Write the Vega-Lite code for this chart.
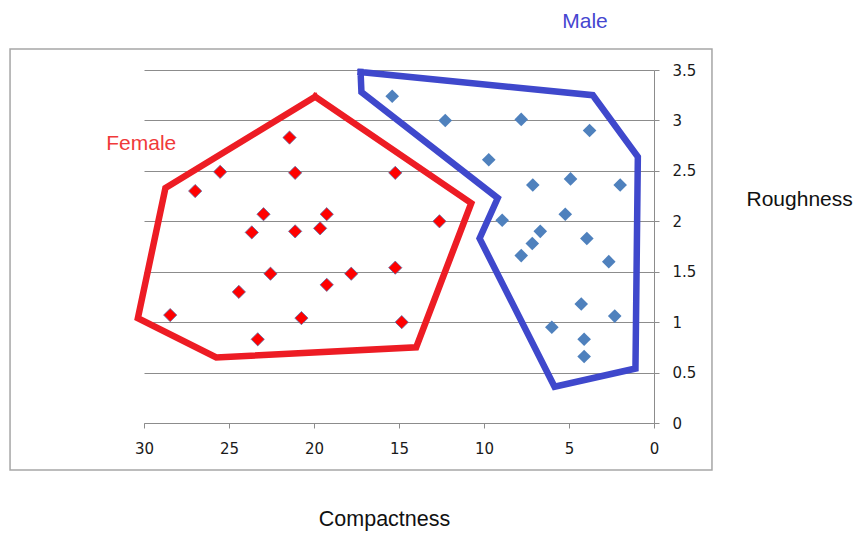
{
  "$schema": "https://vega.github.io/schema/vega-lite/v6.json",
  "width": 510,
  "height": 353,
  "autosize": {"type": "none"},
  "padding": {"left": 144, "top": 70, "right": 202, "bottom": 111},
  "background": "white",
  "config": {
    "view": {"stroke": null},
    "axis": {
      "domainColor": "#8c8c8c",
      "tickColor": "#8c8c8c",
      "gridColor": "#8c8c8c",
      "tickSize": 5,
      "labelFont": "DejaVu Sans",
      "labelFontSize": 15,
      "labelColor": "#1a1a1a",
      "labelFlush": false,
      "titleFont": "Liberation Sans",
      "titleFontSize": 21,
      "titleFontWeight": "normal",
      "titleColor": "#111111"
    }
  },
  "datasets": {
    "specimens": [
      {"sex": "Female", "compactness": 21.44, "roughness": 2.83},
      {"sex": "Female", "compactness": 25.52, "roughness": 2.49},
      {"sex": "Female", "compactness": 26.99, "roughness": 2.30},
      {"sex": "Female", "compactness": 21.11, "roughness": 2.48},
      {"sex": "Female", "compactness": 22.97, "roughness": 2.07},
      {"sex": "Female", "compactness": 19.25, "roughness": 2.07},
      {"sex": "Female", "compactness": 23.66, "roughness": 1.89},
      {"sex": "Female", "compactness": 21.11, "roughness": 1.90},
      {"sex": "Female", "compactness": 19.64, "roughness": 1.93},
      {"sex": "Female", "compactness": 22.56, "roughness": 1.48},
      {"sex": "Female", "compactness": 17.81, "roughness": 1.48},
      {"sex": "Female", "compactness": 24.42, "roughness": 1.30},
      {"sex": "Female", "compactness": 19.25, "roughness": 1.37},
      {"sex": "Female", "compactness": 28.46, "roughness": 1.07},
      {"sex": "Female", "compactness": 20.74, "roughness": 1.04},
      {"sex": "Female", "compactness": 23.31, "roughness": 0.83},
      {"sex": "Female", "compactness": 15.22, "roughness": 2.48},
      {"sex": "Female", "compactness": 12.62, "roughness": 2.00},
      {"sex": "Female", "compactness": 15.22, "roughness": 1.54},
      {"sex": "Female", "compactness": 14.84, "roughness": 1.00},
      {"sex": "Male", "compactness": 15.40, "roughness": 3.24},
      {"sex": "Male", "compactness": 12.28, "roughness": 3.00},
      {"sex": "Male", "compactness": 7.81, "roughness": 3.01},
      {"sex": "Male", "compactness": 3.79, "roughness": 2.90},
      {"sex": "Male", "compactness": 9.72, "roughness": 2.61},
      {"sex": "Male", "compactness": 7.13, "roughness": 2.36},
      {"sex": "Male", "compactness": 4.91, "roughness": 2.42},
      {"sex": "Male", "compactness": 1.99, "roughness": 2.36},
      {"sex": "Male", "compactness": 8.93, "roughness": 2.01},
      {"sex": "Male", "compactness": 5.22, "roughness": 2.07},
      {"sex": "Male", "compactness": 6.69, "roughness": 1.90},
      {"sex": "Male", "compactness": 7.16, "roughness": 1.78},
      {"sex": "Male", "compactness": 3.95, "roughness": 1.83},
      {"sex": "Male", "compactness": 7.81, "roughness": 1.66},
      {"sex": "Male", "compactness": 2.66, "roughness": 1.60},
      {"sex": "Male", "compactness": 4.28, "roughness": 1.18},
      {"sex": "Male", "compactness": 2.31, "roughness": 1.06},
      {"sex": "Male", "compactness": 6.01, "roughness": 0.95},
      {"sex": "Male", "compactness": 4.11, "roughness": 0.83},
      {"sex": "Male", "compactness": 4.11, "roughness": 0.66}
    ],
    "outlines": [
      {"sex": "Female", "vertex": 1, "compactness": 19.93, "roughness": 3.236},
      {"sex": "Female", "vertex": 2, "compactness": 10.75, "roughness": 2.18},
      {"sex": "Female", "vertex": 3, "compactness": 13.99, "roughness": 0.75},
      {"sex": "Female", "vertex": 4, "compactness": 25.75, "roughness": 0.65},
      {"sex": "Female", "vertex": 5, "compactness": 30.36, "roughness": 1.04},
      {"sex": "Female", "vertex": 6, "compactness": 28.74, "roughness": 2.33},
      {"sex": "Female", "vertex": 7, "compactness": 19.93, "roughness": 3.236},
      {"sex": "Male", "vertex": 1, "compactness": 17.26, "roughness": 3.48},
      {"sex": "Male", "vertex": 2, "compactness": 3.60, "roughness": 3.25},
      {"sex": "Male", "vertex": 3, "compactness": 0.95, "roughness": 2.64},
      {"sex": "Male", "vertex": 4, "compactness": 1.09, "roughness": 0.54},
      {"sex": "Male", "vertex": 5, "compactness": 5.85, "roughness": 0.36},
      {"sex": "Male", "vertex": 6, "compactness": 10.26, "roughness": 1.83},
      {"sex": "Male", "vertex": 7, "compactness": 9.19, "roughness": 2.23},
      {"sex": "Male", "vertex": 8, "compactness": 17.21, "roughness": 3.28},
      {"sex": "Male", "vertex": 9, "compactness": 17.26, "roughness": 3.48}
    ],
    "groupLabels": [
      {"sex": "Female", "compactness": 30.16, "roughness": 2.707},
      {"sex": "Male", "compactness": 4.06, "roughness": 3.92}
    ]
  },
  "layer": [
    {
      "data": {"values": [{"frame": "chart area"}]},
      "mark": {"type": "rect", "filled": false, "fillOpacity": 0, "stroke": "#a6a6a6", "strokeWidth": 1.5, "clip": false},
      "encoding": {
        "x": {"datum": 37.88, "type": "quantitative", "scale": {"domain": [0, 30], "reverse": true, "nice": false, "zero": false}},
        "x2": {"datum": -3.41},
        "y": {"datum": 3.708, "type": "quantitative", "scale": {"domain": [0, 3.5], "nice": false, "zero": false}},
        "y2": {"datum": -0.466}
      }
    },
    {
      "data": {"name": "outlines"},
      "mark": {"type": "line", "strokeWidth": 6.5, "strokeJoin": "miter", "strokeCap": "square", "clip": false},
      "encoding": {
        "x": {
          "field": "compactness",
          "type": "quantitative",
          "scale": {"domain": [0, 30], "reverse": true, "nice": false, "zero": false},
          "axis": {
            "orient": "bottom",
            "values": [0, 5, 10, 15, 20, 25, 30],
            "grid": false,
            "labelPadding": 13,
            "title": "Compactness",
            "titleFontSize": 21.5,
            "titleX": 240,
            "titleY": 102,
            "titleBaseline": "alphabetic"
          }
        },
        "y": {
          "field": "roughness",
          "type": "quantitative",
          "scale": {"domain": [0, 3.5], "nice": false, "zero": false},
          "axis": {
            "orient": "right",
            "values": [0, 0.5, 1, 1.5, 2, 2.5, 3, 3.5],
            "format": "~g",
            "grid": true,
            "labelPadding": 13,
            "labelAlign": "left",
            "title": "Roughness",
            "titleAngle": 0,
            "titleAlign": "left",
            "titleX": 92,
            "titleY": 135,
            "titleBaseline": "alphabetic"
          }
        },
        "stroke": {
          "field": "sex",
          "type": "nominal",
          "scale": {"domain": ["Female", "Male"], "range": ["#ED1C24", "#3F48CC"]},
          "legend": null
        },
        "order": {"field": "vertex", "type": "quantitative"}
      }
    },
    {
      "data": {"name": "specimens"},
      "transform": [{"filter": "datum.sex === 'Female'"}],
      "mark": {"type": "point", "shape": "diamond", "filled": true, "size": 175, "fill": "#FF0000", "stroke": "#5b6fa6", "strokeWidth": 0.8, "opacity": 1},
      "encoding": {
        "x": {"field": "compactness", "type": "quantitative"},
        "y": {"field": "roughness", "type": "quantitative"}
      }
    },
    {
      "data": {"name": "specimens"},
      "transform": [{"filter": "datum.sex === 'Male'"}],
      "mark": {"type": "point", "shape": "diamond", "filled": true, "size": 185, "fill": "#4F81BD", "strokeWidth": 0, "opacity": 1},
      "encoding": {
        "x": {"field": "compactness", "type": "quantitative"},
        "y": {"field": "roughness", "type": "quantitative"}
      }
    },
    {
      "data": {"name": "groupLabels"},
      "mark": {"type": "text", "font": "Liberation Sans", "fontSize": 21, "align": "center", "baseline": "alphabetic", "clip": false},
      "encoding": {
        "x": {"field": "compactness", "type": "quantitative"},
        "y": {"field": "roughness", "type": "quantitative"},
        "text": {"field": "sex"},
        "color": {
          "field": "sex",
          "type": "nominal",
          "scale": {"domain": ["Female", "Male"], "range": ["#F03A3A", "#4646D0"]},
          "legend": null
        }
      }
    }
  ]
}
